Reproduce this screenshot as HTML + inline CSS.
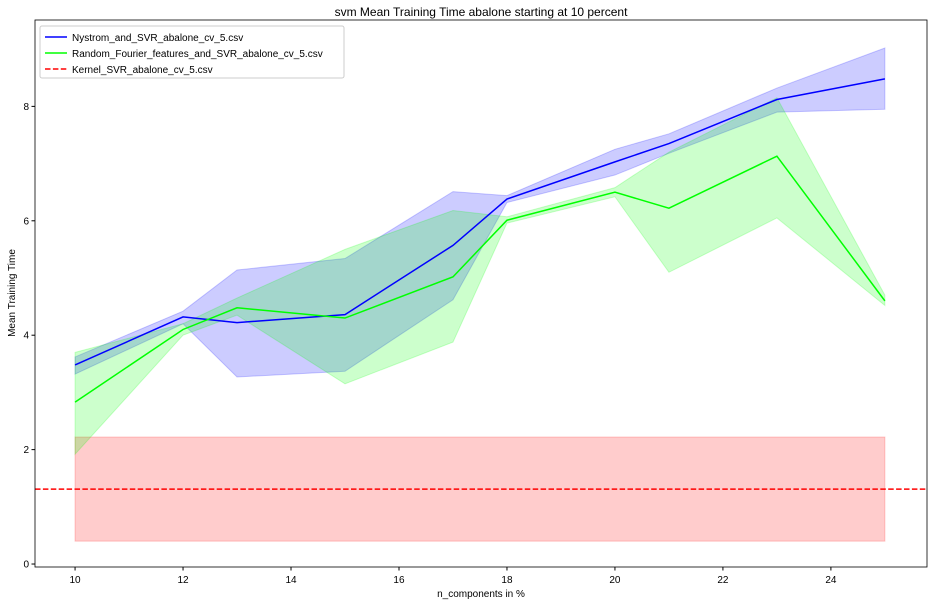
<!DOCTYPE html>
<html><head><meta charset="utf-8"><style>
body{margin:0;background:#fff;font-family:"Liberation Sans",sans-serif}
svg text{font-family:"Liberation Sans",sans-serif;fill:#000}
</style></head><body>
<svg id="chart" width="934" height="605" xmlns="http://www.w3.org/2000/svg"></svg>
<script>
const xs=[10,12,13,15,17,18,20,21,23,25];
const nysMean=[3.48,4.32,4.22,4.36,5.57,6.38,7.03,7.35,8.12,8.48];
const nysUp=[3.62,4.42,5.14,5.34,6.51,6.44,7.25,7.52,8.32,9.02];
const nysLo=[3.32,4.2,3.27,3.37,4.62,6.32,6.8,7.18,7.9,7.95];
const rffMean=[2.83,4.1,4.48,4.3,5.02,6.01,6.5,6.22,7.13,4.6];
const rffUp=[3.7,4.2,4.65,5.5,6.18,6.07,6.58,7.2,8.15,4.7];
const rffLo=[1.92,4.0,4.35,3.15,3.88,5.96,6.42,5.1,6.05,4.52];
const kernelMean=1.31, kernelUp=2.22, kernelLo=0.4;
const xTicks=[10,12,14,16,18,20,22,24];
const yTicks=[0,2,4,6,8];
const L=35,R=927,T=20,B=567;
const x0=9.258,x1=25.78,y0=-0.052,y1=9.51;
const X=v=>L+(v-x0)/(x1-x0)*(R-L);
const Y=v=>B-(v-y0)/(y1-y0)*(B-T);
const svg=document.getElementById('chart');
const NS='http://www.w3.org/2000/svg';
function el(t,a,p){const e=document.createElementNS(NS,t);for(const k in a)e.setAttribute(k,a[k]);(p||svg).appendChild(e);return e;}
function band(up,lo,fill,name){
 let d='M'+xs.map((v,i)=>X(v)+','+Y(up[i])).join('L');
 for(let i=xs.length-1;i>=0;i--)d+='L'+X(xs[i])+','+Y(lo[i]);
 const e=el('path',{d:d+'Z',fill:fill,'fill-opacity':0.2,stroke:fill,'stroke-opacity':0.2});
 
 
}
function line(m,col,name){
 const e=el('polyline',{points:xs.map((v,i)=>X(v)+','+Y(m[i])).join(' '),fill:'none',stroke:col,'stroke-width':1.5});
 
 
}
const kb=el('rect',{x:X(10),y:Y(kernelUp),width:X(25)-X(10),height:Y(kernelLo)-Y(kernelUp),fill:'red','fill-opacity':0.2,stroke:'red','stroke-opacity':0.2});


band(nysUp,nysLo,'blue','nystrom-band');
band(rffUp,rffLo,'lime','rff-band');
line(nysMean,'blue','nystrom-line');
line(rffMean,'lime','rff-line');
const kl=el('line',{x1:L,x2:R,y1:Y(kernelMean),y2:Y(kernelMean),stroke:'red','stroke-width':1.5,'stroke-dasharray':'5.5,2.4'});


const ax=el('rect',{x:L,y:T,width:R-L,height:B-T,fill:'none',stroke:'#000','stroke-width':0.8});


xTicks.forEach(t=>{el('line',{x1:X(t),x2:X(t),y1:B,y2:B+3.5,stroke:'#000'});
 const tx=el('text',{x:X(t),y:B+16,'text-anchor':'middle','font-size':10});tx.textContent=t;
 });
yTicks.forEach(t=>{el('line',{x1:L,x2:L-3.5,y1:Y(t),y2:Y(t),stroke:'#000'});
 const tx=el('text',{x:L-6,y:Y(t)+3.5,'text-anchor':'end','font-size':10});tx.textContent=t;
 });
</script>
<svg style="position:absolute;left:0;top:0" width="934" height="605" xmlns="http://www.w3.org/2000/svg">
<text x="481" y="16" text-anchor="middle" font-size="12">svm Mean Training Time abalone starting at 10 percent</text>
<text x="481" y="597" text-anchor="middle" font-size="10">n_components in %</text>
<text transform="translate(15,293) rotate(-90)" text-anchor="middle" font-size="10">Mean Training Time</text>
<g>
<rect x="40" y="26" width="304" height="52" rx="2" fill="#fff" fill-opacity="0.8" stroke="#ccc"/>
<line x1="45" x2="67" y1="37" y2="37" stroke="blue" stroke-width="1.5"/>
<text x="72" y="41" font-size="10">Nystrom_and_SVR_abalone_cv_5.csv</text>
<line x1="45" x2="67" y1="53" y2="53" stroke="lime" stroke-width="1.5"/>
<text x="72" y="57" font-size="10">Random_Fourier_features_and_SVR_abalone_cv_5.csv</text>
<line x1="45" x2="67" y1="69" y2="69" stroke="red" stroke-width="1.5" stroke-dasharray="5.5,2.4"/>
<text x="72" y="73" font-size="10">Kernel_SVR_abalone_cv_5.csv</text>
</g>
</svg>
</body></html>
